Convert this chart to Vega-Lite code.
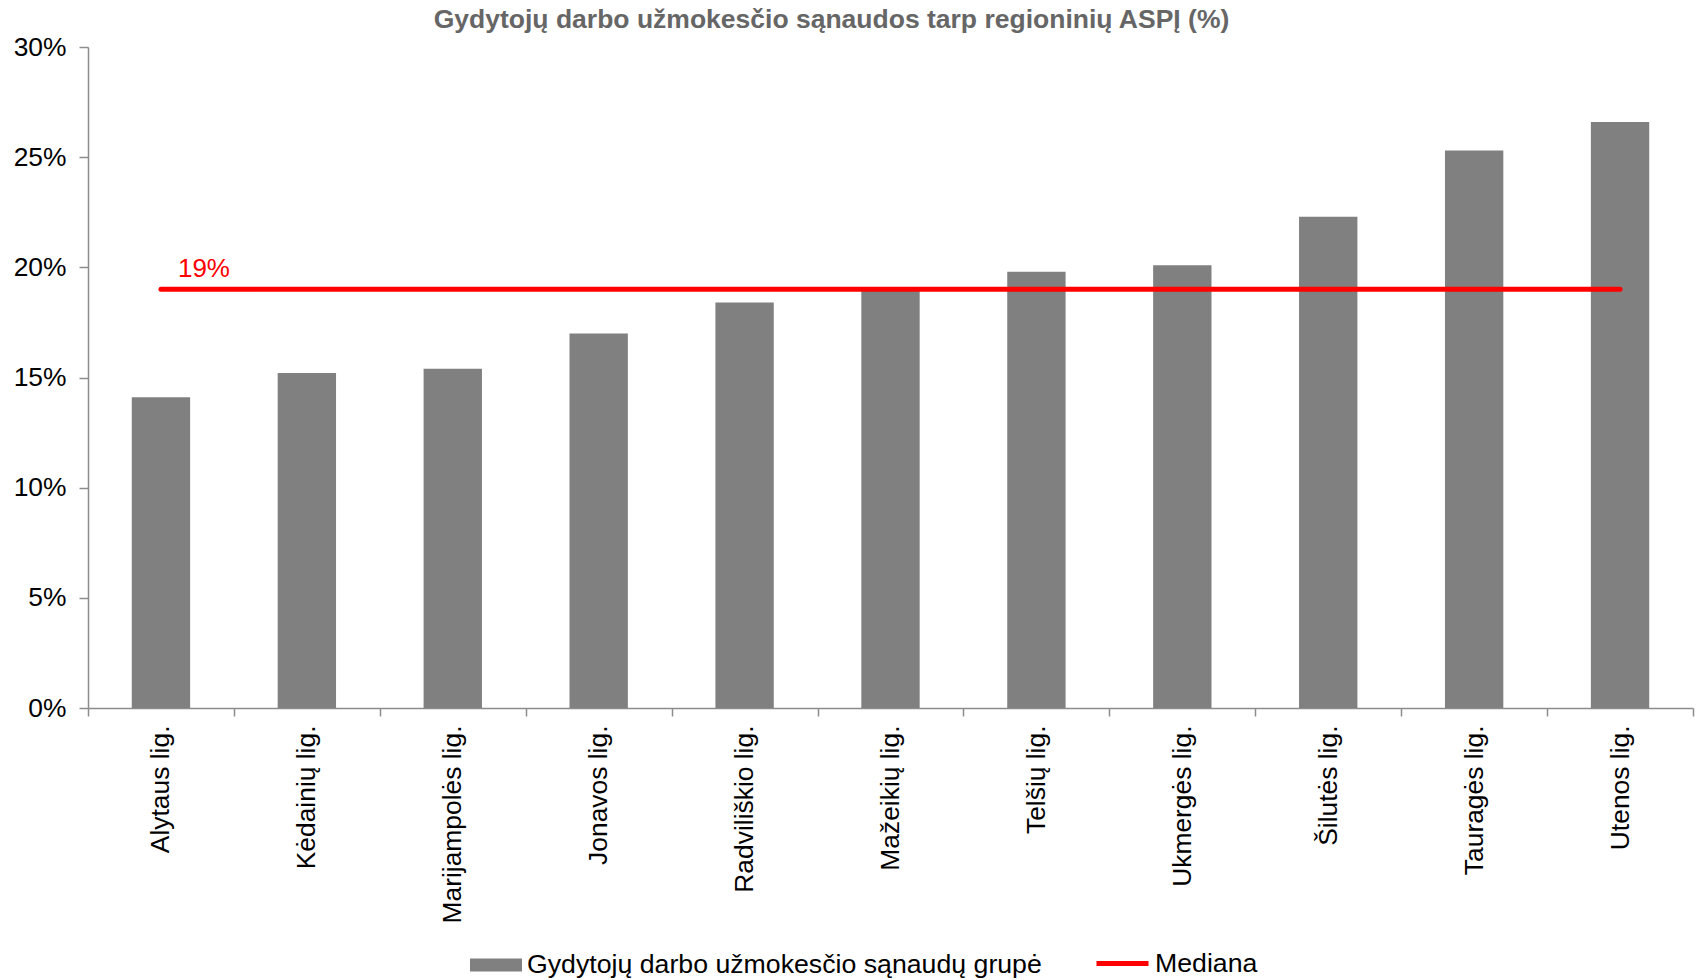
{
  "$schema": "https://vega.github.io/schema/vega-lite/v6.json",
  "width": 1605,
  "height": 661,
  "autosize": {"type": "none"},
  "padding": {"left": 88, "top": 47, "right": 5, "bottom": 272},
  "background": "white",
  "config": {
    "font": "Liberation Sans",
    "view": {"stroke": null},
    "axis": {
      "domainColor": "#8c8c8c",
      "domainWidth": 1.5,
      "tickColor": "#8c8c8c",
      "tickWidth": 1.5,
      "labelColor": "#000000",
      "labelFontSize": 26.4,
      "labelFont": "Liberation Sans",
      "labelLimit": 500,
      "grid": false,
      "title": null
    }
  },
  "title": {
    "text": "Gydytojų darbo užmokesčio sąnaudos tarp regioninių ASPĮ (%)",
    "fontSize": 26.5,
    "fontWeight": "bold",
    "color": "#666666",
    "font": "Liberation Sans",
    "anchor": "middle",
    "frame": "group",
    "dx": -59,
    "offset": 1
  },
  "data": {
    "values": [
      {"ligonine": "Alytaus lig.", "reiksme": 14.1, "mediana": 19},
      {"ligonine": "Kėdainių lig.", "reiksme": 15.2, "mediana": 19},
      {"ligonine": "Marijampolės lig.", "reiksme": 15.4, "mediana": 19},
      {"ligonine": "Jonavos lig.", "reiksme": 17.0, "mediana": 19},
      {"ligonine": "Radviliškio lig.", "reiksme": 18.4, "mediana": 19},
      {"ligonine": "Mažeikių lig.", "reiksme": 19.0, "mediana": 19},
      {"ligonine": "Telšių lig.", "reiksme": 19.8, "mediana": 19},
      {"ligonine": "Ukmergės lig.", "reiksme": 20.1, "mediana": 19},
      {"ligonine": "Šilutės lig.", "reiksme": 22.3, "mediana": 19},
      {"ligonine": "Tauragės lig.", "reiksme": 25.3, "mediana": 19},
      {"ligonine": "Utenos lig.", "reiksme": 26.6, "mediana": 19}
    ]
  },
  "encoding": {
    "x": {
      "field": "ligonine",
      "type": "nominal",
      "sort": null,
      "scale": {"paddingInner": 0, "paddingOuter": 0},
      "axis": {
        "labelAngle": -90,
        "labelPadding": 9,
        "tickSize": 8,
        "tickBand": "extent"
      }
    }
  },
  "layer": [
    {
      "mark": {"type": "bar", "width": {"band": 0.4}},
      "encoding": {
        "y": {
          "field": "reiksme",
          "type": "quantitative",
          "scale": {"domain": [0, 30]},
          "axis": {
            "values": [0, 5, 10, 15, 20, 25, 30],
            "labelExpr": "datum.value + '%'",
            "tickSize": 9,
            "labelPadding": 13
          }
        },
        "color": {
          "datum": "Gydytojų darbo užmokesčio sąnaudų grupė",
          "scale": {"range": ["#808080"]},
          "legend": {
            "orient": "none",
            "legendX": 382,
            "legendY": 892,
            "title": null,
            "padding": 0,
            "symbolType": "M-1,-0.25H1V0.25H-1Z",
            "symbolSize": 2704,
            "symbolStrokeWidth": 0,
            "labelFontSize": 26.7,
            "labelColor": "#000000",
            "labelLimit": 1000,
            "labelOffset": 5
          }
        }
      }
    },
    {
      "mark": {"type": "line", "strokeWidth": 5, "strokeCap": "round"},
      "encoding": {
        "y": {"field": "mediana", "type": "quantitative"},
        "stroke": {
          "datum": "Mediana",
          "scale": {"range": ["#ff0000"]},
          "legend": {
            "orient": "none",
            "legendX": 1006,
            "legendY": 888,
            "title": null,
            "padding": 0,
            "symbolType": "stroke",
            "symbolSize": 2704,
            "symbolStrokeWidth": 5,
            "labelFontSize": 26.7,
            "labelColor": "#000000",
            "labelLimit": 1000,
            "labelOffset": 4
          }
        }
      }
    },
    {
      "transform": [{"filter": "datum.ligonine === 'Alytaus lig.'"}],
      "mark": {
        "type": "text",
        "align": "left",
        "baseline": "middle",
        "dx": 17,
        "dy": -20,
        "fontSize": 26,
        "color": "#ff0000"
      },
      "encoding": {
        "y": {"field": "mediana", "type": "quantitative"},
        "text": {"value": "19%"}
      }
    }
  ]
}
